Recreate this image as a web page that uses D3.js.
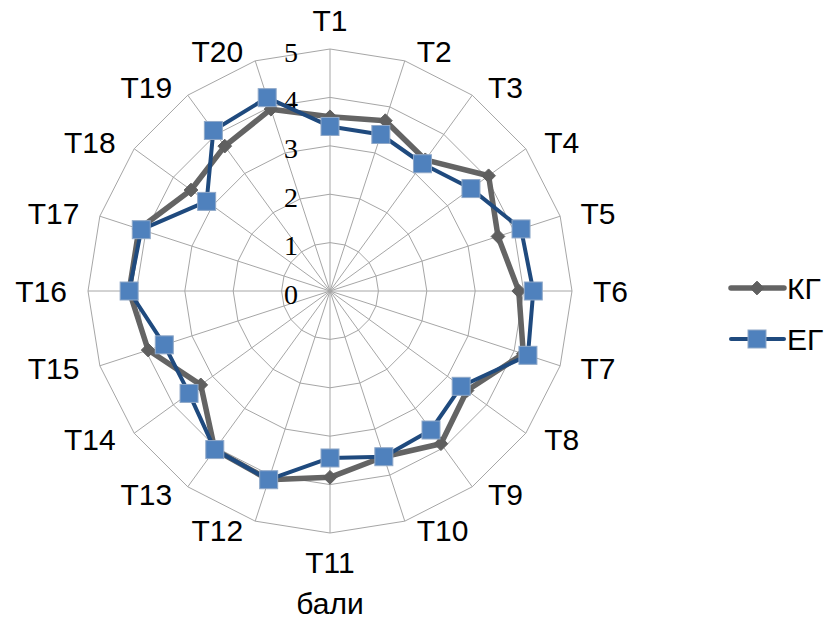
<!DOCTYPE html>
<html>
<head>
<meta charset="utf-8">
<script src="https://cdn.jsdelivr.net/npm/d3@7"></script>
<style>
  html, body { margin: 0; padding: 0; background: #fff; }
  svg { display: block; }
</style>
</head>
<body>
<svg id="chart" width="829" height="620"></svg>
<script>
// Test items around the radar
const categories = ["T1","T2","T3","T4","T5","T6","T7","T8","T9","T10",
                    "T11","T12","T13","T14","T15","T16","T17","T18","T19","T20"];
// Control group scores
const kgValues = [3.6, 3.7, 3.35, 4.05, 3.65, 3.9, 4.2, 3.5, 3.9, 3.6,
                  3.85, 4.1, 4.05, 3.3, 3.95, 4.15, 4.15, 3.55, 3.7, 3.95];
// Experimental group scores
const egValues = [3.4, 3.4, 3.25, 3.6, 4.15, 4.2, 4.3, 3.35, 3.55, 3.6,
                  3.45, 4.1, 4.05, 3.6, 3.6, 4.15, 4.1, 3.15, 4.1, 4.2];
const tickValues = [0, 1, 2, 3, 4, 5];
const seriesNames = ["КГ", "ЕГ"];
const axisTitle = "бали";

const svg = d3.select("#chart");
const cx = 330, cy = 291, R = 242;
const sansFont = "'Liberation Sans', Arial, sans-serif";

const r = d3.scaleLinear().domain([0, 5]).range([0, R]);
const angle = d3.scaleLinear().domain([0, categories.length]).range([0, 2 * Math.PI]);
const pt = (i, v) => [cx + r(v) * Math.sin(angle(i)), cy - r(v) * Math.cos(angle(i))];

const grid = svg.append("g");
// Concentric polygon rings
tickValues.filter(t => t > 0).forEach(t => {
  grid.append("path")
    .attr("d", d3.line()(categories.map((c, i) => pt(i, t))) + "Z")
    .attr("fill", "none").attr("stroke", "#a6a6a6").attr("stroke-width", 1);
});
// Spokes
categories.forEach((c, i) => {
  const [x, y] = pt(i, 5);
  grid.append("line").attr("x1", cx).attr("y1", cy).attr("x2", x).attr("y2", y)
    .attr("stroke", "#a6a6a6").attr("stroke-width", 1);
});

// Radial tick labels along the first axis
svg.append("g").selectAll("text").data(tickValues).join("text")
  .attr("x", cx - 32)
  .attr("y", d => cy - r(d) + 3)
  .attr("text-anchor", "end")
  .attr("dominant-baseline", "central")
  .attr("font-family", "'Liberation Serif', 'Times New Roman', serif")
  .attr("font-size", 28)
  .attr("fill", "#000")
  .text(d => d);

// Category labels
svg.append("g").selectAll("text").data(categories).join("text")
  .each(function(d, i) {
    const a = angle(i);
    const s = Math.sin(a), c = Math.cos(a);
    const t = d3.select(this);
    if (Math.abs(s) < 1e-6) {
      t.attr("x", cx).attr("y", cy - c * 271).attr("text-anchor", "middle");
    } else {
      t.attr("x", cx + s * 255 + Math.sign(s) * 8)
       .attr("y", cy - c * 252)
       .attr("text-anchor", s > 0 ? "start" : "end");
    }
  })
  .attr("dominant-baseline", "central")
  .attr("font-family", sansFont)
  .attr("font-size", 30)
  .attr("fill", "#000")
  .text(d => d);

const radial = d3.lineRadial()
  .angle((d, i) => angle(i))
  .radius(d => r(d))
  .curve(d3.curveLinearClosed);

// Control group series
const kg = svg.append("g").attr("transform", `translate(${cx},${cy})`);
kg.append("path").attr("d", radial(kgValues))
  .attr("fill", "none").attr("stroke", "#646464").attr("stroke-width", 5.5)
  .attr("stroke-linejoin", "round");
const diamond = d3.symbol().type(d3.symbolDiamond2).size(120);
kg.selectAll("path.m").data(kgValues).join("path").attr("class", "m")
  .attr("d", diamond())
  .attr("transform", (d, i) => `translate(${r(d) * Math.sin(angle(i))},${-r(d) * Math.cos(angle(i))})`)
  .attr("fill", "#5f5f5f").attr("stroke", "#5f5f5f").attr("stroke-width", 1);

// Experimental group series
const eg = svg.append("g").attr("transform", `translate(${cx},${cy})`);
eg.append("path").attr("d", radial(egValues))
  .attr("fill", "none").attr("stroke", "#1f4a7e").attr("stroke-width", 4)
  .attr("stroke-linejoin", "round");
const sq = 18;
eg.selectAll("rect").data(egValues).join("rect")
  .attr("x", (d, i) => r(d) * Math.sin(angle(i)) - sq / 2)
  .attr("y", (d, i) => -r(d) * Math.cos(angle(i)) - sq / 2)
  .attr("width", sq).attr("height", sq)
  .attr("fill", "#4f81bd").attr("stroke", "#8fa8c8").attr("stroke-width", 1);

// Legend
const legend = svg.append("g");
const lg = [
  { name: seriesNames[0], y: 288, color: "#646464", w: 5.5, marker: "diamond" },
  { name: seriesNames[1], y: 339, color: "#1f4a7e", w: 4, marker: "square" }
];
lg.forEach(d => {
  legend.append("line").attr("x1", 731).attr("x2", 784).attr("y1", d.y).attr("y2", d.y)
    .attr("stroke", d.color).attr("stroke-width", d.w).attr("stroke-linecap", "round");
  if (d.marker === "diamond") {
    legend.append("path").attr("d", diamond())
      .attr("transform", `translate(757,${d.y})`)
      .attr("fill", "#5f5f5f").attr("stroke", "#5f5f5f");
  } else {
    legend.append("rect").attr("x", 757 - sq / 2).attr("y", d.y - sq / 2)
      .attr("width", sq).attr("height", sq)
      .attr("fill", "#4f81bd").attr("stroke", "#8fa8c8");
  }
  legend.append("text").attr("x", 787).attr("y", d.y)
    .attr("dominant-baseline", "central")
    .attr("font-family", sansFont)
    .attr("font-size", 30).attr("fill", "#000")
    .text(d.name);
});

// Axis title
svg.append("text").attr("x", cx).attr("y", 614)
  .attr("text-anchor", "middle")
  .attr("font-family", sansFont)
  .attr("font-size", 30).attr("fill", "#000")
  .text(axisTitle);
</script>
</body>
</html>
